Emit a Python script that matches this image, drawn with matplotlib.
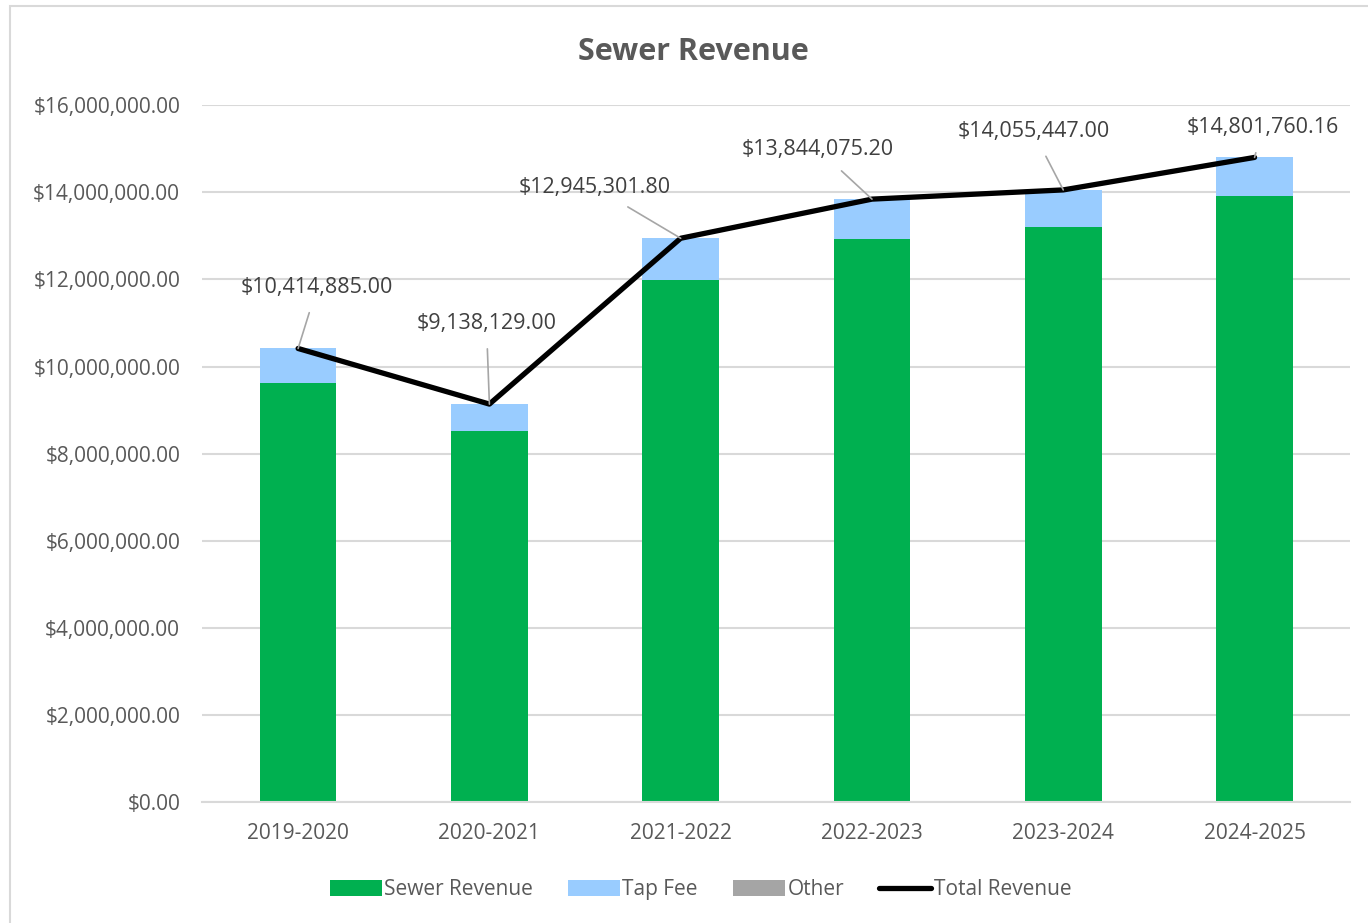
import matplotlib.pyplot as plt
from matplotlib.patches import Rectangle
from matplotlib.ticker import FuncFormatter

years = ["2019-2020", "2020-2021", "2021-2022", "2022-2023", "2023-2024", "2024-2025"]
sewer = [9620000, 8520000, 11980000, 12920000, 13200000, 13910000]
other = [0, 0, 0, 0, 0, 0]
total = [10414885.00, 9138129.00, 12945301.80, 13844075.20, 14055447.00, 14801760.16]
tap_fee = [t - s - o for t, s, o in zip(total, sewer, other)]

# label offsets in pixels from the line point
label_offsets = [(19, 61), (-3, 81), (-86, 51), (-54, 50), (-30, 58), (8, 30)]

plt.rcParams["font.family"] = ["Open Sans", "DejaVu Sans"]

fig = plt.figure(figsize=(13.68, 9.23), dpi=100)
ax = fig.add_axes([0.148, 0.131, 0.839, 0.755])

x = list(range(len(years)))
w = 0.40
b1 = ax.bar(x, sewer, w, color="#00b050", label="Sewer Revenue", zorder=2)
b2 = ax.bar(x, tap_fee, w, bottom=sewer, color="#99ccff", label="Tap Fee", zorder=2)
b3 = ax.bar(x, other, w, bottom=[s + t for s, t in zip(sewer, tap_fee)], color="#a5a5a5", label="Other", zorder=2)
ln, = ax.plot(x, total, color="black", lw=3.8, label="Total Revenue", zorder=3, solid_capstyle="round")

for i, (xi, t) in enumerate(zip(x, total)):
    dx, dy = label_offsets[i]
    ax.annotate(f"${t:,.2f}", (xi, t), xytext=(dx, dy), textcoords="offset pixels",
                ha="center", va="center", fontsize=15.5, color="#404040", zorder=4,
                arrowprops=dict(arrowstyle="-", color="#a6a6a6", lw=1.2, shrinkA=9, shrinkB=0))

ax.set_xlim(-0.5, 5.5)
ax.set_ylim(0, 16000000)
ax.set_yticks(range(0, 16000001, 2000000))
ax.yaxis.set_major_formatter(FuncFormatter(lambda v, p: f"${v:,.2f}"))
ax.set_xticks(x)
ax.set_xticklabels(years)
ax.tick_params(axis="both", length=0, labelsize=15, colors="#595959")
ax.tick_params(axis="x", pad=15)
ax.tick_params(axis="y", pad=16)
ax.grid(axis="y", color="#d9d9d9", lw=1.5, zorder=0)
ax.set_axisbelow(True)
for s in ["top", "right", "left"]:
    ax.spines[s].set_visible(False)
ax.spines["bottom"].set_color("#d9d9d9")
ax.spines["bottom"].set_linewidth(1.5)

fig.text(0.507, 0.944, "Sewer Revenue", ha="center", va="center", fontsize=22,
         fontweight="bold", color="#595959")

fig.legend([b1, b2, b3, ln], ["Sewer Revenue", "Tap Fee", "Other", "Total Revenue"],
           loc="center", bbox_to_anchor=(0.512, 0.036), ncol=4, frameon=False,
           fontsize=15, labelcolor="#595959", handlelength=2.5, handleheight=0.8,
           handletextpad=0.1, columnspacing=1.7)

fig.patches.append(Rectangle((0.007, -0.01), 1.0, 1.003, transform=fig.transFigure,
                             fill=False, edgecolor="#d9d9d9", lw=1.5))

fig.savefig("out.png", dpi=100)
